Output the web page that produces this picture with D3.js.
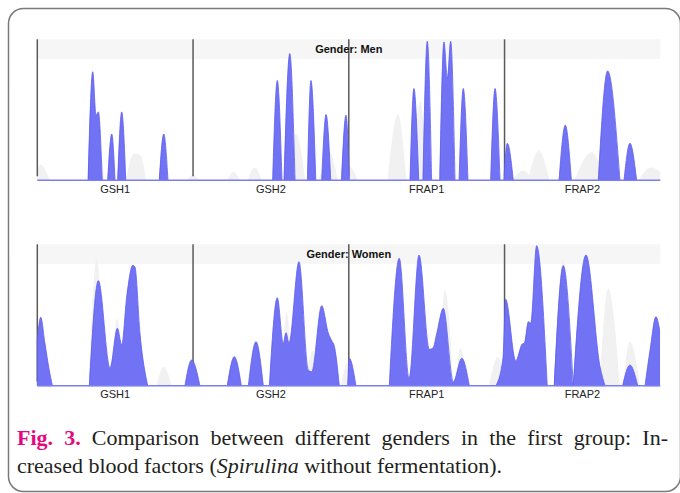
<!DOCTYPE html>
<html>
<head>
<meta charset="utf-8">
<script src="https://cdn.jsdelivr.net/npm/d3@7"></script>
<style>
  body { margin: 0; background: #fff; }
  svg { display: block; }
  .lbl { font-family: "Liberation Sans", Arial, sans-serif; font-size: 11px; }
</style>
</head>
<body>
<svg id="fig" width="680" height="493"></svg>
<script>
// categories along the x axis (one unit wide each)
var categories = ["GSH1", "GSH2", "FRAP1", "FRAP2"];
var panelTitles = ["Gender: Men", "Gender: Women"];

// peak outlines, [position, height] (height 0-100)
var menBlue = [
  [[0.326,0],[0.356,77],[0.377,46],[0.392,48.5],[0.417,0]],
  [[0.452,0],[0.478,32.8],[0.499,0]],
  [[0.516,0],[0.542,48.5],[0.568,0]],
  [[0.783,0],[0.812,32.8],[0.839,0]],
  [[1.511,0],[1.541,70.8],[1.571,0]],
  [[1.584,0],[1.621,89.9],[1.655,0]],
  [[1.734,0],[1.757,70.8],[1.788,0]],
  [[1.826,0],[1.854,46.7],[1.884,0]],
  [[1.953,0],[1.982,46.2],[2.004,0]],
  [[2.393,0],[2.418,65.1],[2.449,0]],
  [[2.476,0],[2.504,98.6],[2.532,0]],
  [[2.584,0],[2.611,98.1],[2.633,72.4],[2.654,98.6],[2.682,0]],
  [[2.708,0],[2.735,65.1],[2.765,0]],
  [[2.911,0],[2.939,65.1],[2.971,0]],
  [[2.995,0],[3.018,26.2],[3.056,0]],
  [[3.350,0],[3.390,39.1],[3.429,0]],
  [[3.602,0],[3.662,77.6],[3.741,0]],
  [[3.767,0],[3.805,26.2],[3.848,0]]
];
var menGray = [
  [[0,8],[0.02,11],[0.08,0]],
  [[0.33,0],[0.39,30],[0.43,0]],
  [[0.57,0],[0.62,19],[0.66,18],[0.70,0]],
  [[0.96,0],[1.0,4],[1.04,0]],
  [[1.22,0],[1.26,6],[1.30,0]],
  [[1.35,0],[1.395,9],[1.44,0]],
  [[1.60,0],[1.66,33],[1.72,0]],
  [[1.81,0],[1.87,21],[1.93,0]],
  [[1.95,0],[2.0,10],[2.06,0]],
  [[2.25,0],[2.316,47],[2.37,0]],
  [[2.40,0],[2.46,56],[2.50,0]],
  [[3.05,0],[3.12,7],[3.18,0]],
  [[3.15,0],[3.22,21],[3.29,0]],
  [[3.45,0],[3.56,20],[3.64,0]],
  [[3.86,0],[3.94,9],[4,6]]
];
var womenBlue = [
  [[0,32],[0.022,48.4],[0.049,30],[0.075,12],[0.097,0]],
  [[0.334,0],[0.392,74.3],[0.467,12.5],[0.514,40.6],[0.542,28.8],[0.574,62.9],[0.613,85.1],[0.627,84],[0.659,37.3],[0.709,0]],
  [[0.948,0],[0.991,18.2],[1.044,0]],
  [[1.220,0],[1.265,20.5],[1.310,0]],
  [[1.355,0],[1.404,31.1],[1.451,0]],
  [[1.490,0],[1.541,62.2],[1.579,30],[1.597,37.5],[1.616,30.2],[1.680,87.7],[1.740,11.1],[1.762,9.9],[1.826,56.6],[1.868,37.3],[1.894,31.1],[1.905,28.8],[1.939,0]],
  [[1.993,0],[2.003,19.4],[2.046,0]],
  [[2.260,0],[2.324,90.1],[2.387,5.2],[2.451,92.4],[2.517,25.7],[2.541,26.7],[2.564,36.6],[2.607,54.7],[2.671,2.8],[2.725,19.4],[2.774,0]],
  [[2.945,0],[2.990,19.6],[3.007,61.1],[3.072,17.5],[3.114,29.5],[3.127,30],[3.153,45.3],[3.168,44.3],[3.206,99],[3.274,0]],
  [[3.319,0],[3.377,84.9],[3.441,0]],
  [[3.441,0],[3.523,92.4],[3.613,13.4],[3.645,0]],
  [[3.758,0],[3.805,14.6],[3.855,0]],
  [[3.902,0],[3.934,25],[3.972,48.8],[3.995,40]]
];
var womenGray = [
  [[0.33,0],[0.381,90],[0.43,0]],
  [[0.48,0],[0.51,47.7],[0.56,0]],
  [[0.766,0],[0.81,13.4],[0.863,0]],
  [[1.57,0],[1.60,52],[1.64,0]],
  [[1.72,0],[1.77,25],[1.80,0]],
  [[1.95,0],[1.99,16],[2.03,0]],
  [[2.573,0],[2.618,67.7],[2.67,0]],
  [[2.69,0],[2.714,26.4],[2.77,0]],
  [[2.90,0],[2.96,20.5],[3.0,0]],
  [[3.32,0],[3.377,89],[3.44,0]],
  [[3.61,0],[3.666,69],[3.74,0]],
  [[3.76,0],[3.805,31],[3.87,0]]
];

var svg = d3.select("#fig");

// outer frame
svg.append("rect")
  .attr("x", 8.5).attr("y", 8.5)
  .attr("width", 672).attr("height", 483)
  .attr("rx", 15)
  .attr("fill", "none")
  .attr("stroke", "#7a7a7a")
  .attr("stroke-width", 1.5);

var left = 37.3, right = 660.3;
var x = d3.scaleLinear().domain([0, 4]).range([left, right]);
var band = d3.scaleBand().domain(categories).range([left, right]);

var panels = [
  {title: panelTitles[0], top: 39.3, base: 180.3, blue: menBlue, gray: menGray},
  {title: panelTitles[1], top: 244.3, base: 385.7, blue: womenBlue, gray: womenGray}
];

panels.forEach(function(p){
  var y = d3.scaleLinear().domain([0, 100]).range([p.base, p.top]);
  var g = svg.append("g");

  // light header band
  g.append("rect")
    .attr("x", left).attr("y", p.top)
    .attr("width", right - left).attr("height", 19.5)
    .attr("fill", "#f6f6f6");

  var area = d3.area()
    .x(function(d){ return x(d[0]); })
    .y0(y(0))
    .y1(function(d){ return y(d[1]); })
    .curve(d3.curveMonotoneX);

  g.selectAll("path.gray")
    .data(p.gray)
    .enter().append("path")
    .attr("class", "gray")
    .attr("d", area)
    .attr("fill", "#f1f1f1");

  // group separators
  g.selectAll("line.sep")
    .data(categories)
    .enter().append("line")
    .attr("class", "sep")
    .attr("x1", function(d){ return band(d); })
    .attr("x2", function(d){ return band(d); })
    .attr("y1", p.top)
    .attr("y2", y(0) - 4)
    .attr("stroke", "#5a5a5a")
    .attr("stroke-width", 1.5);

  g.selectAll("path.blue")
    .data(p.blue)
    .enter().append("path")
    .attr("class", "blue")
    .attr("d", area)
    .attr("fill", "#7272f4")
    .attr("stroke", "#5c5cf0")
    .attr("stroke-width", 0.8);

  // baseline
  g.append("line")
    .attr("x1", left).attr("x2", right)
    .attr("y1", y(0)).attr("y2", y(0))
    .attr("stroke", "#7d7df2")
    .attr("stroke-width", 1.5);

  var axis = g.append("g")
    .attr("transform", "translate(0," + (y(0) + 1) + ")")
    .call(d3.axisBottom(band).tickSize(0).tickPadding(4));
  axis.select(".domain").remove();
  axis.attr("font-family", null).attr("font-size", null);
  axis.selectAll("text")
    .attr("class", "lbl")
    .attr("fill", "#222");

  g.append("text")
    .attr("class", "lbl")
    .attr("x", (left + right) / 2)
    .attr("y", p.top + 14)
    .attr("text-anchor", "middle")
    .attr("font-weight", "bold")
    .attr("fill", "#111")
    .text(p.title);
});

// caption
var serif = "'Liberation Serif', 'Times New Roman', Tinos, 'DejaVu Serif', serif";

var line1 = svg.append("text")
  .attr("x", 17).attr("y", 444.5)
  .style("font-family", serif)
  .style("font-size", "22px")
  .attr("fill", "#231f20");
line1.append("tspan")
  .style("font-weight", "bold")
  .attr("fill", "#e5097f")
  .text("Fig. 3.");
line1.append("tspan")
  .text(" Comparison between different genders in the first group: In-");

// stretch the first line to the full measure, like the justified original
var want = 668 - 17;
var have = line1.node().getComputedTextLength();
var gaps = 10;
line1.style("word-spacing", ((want - have) / gaps).toFixed(2) + "px");

var line2 = svg.append("text")
  .attr("x", 17).attr("y", 473)
  .style("font-family", serif)
  .style("font-size", "22px")
  .attr("fill", "#231f20");
line2.append("tspan").text("creased blood factors (");
line2.append("tspan").style("font-style", "italic").text("Spirulina");
line2.append("tspan").text(" without fermentation).");
</script>
</body>
</html>
